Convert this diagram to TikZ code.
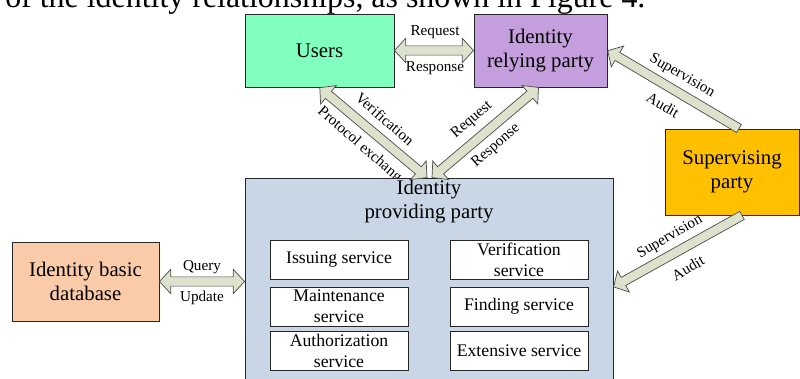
\documentclass[tikz,border=0pt]{standalone}
\usepackage{fontspec}
\setmainfont{Liberation Serif}
\usetikzlibrary{calc, backgrounds}

\definecolor{userfill}{RGB}{128,255,190}
\definecolor{relyfill}{RGB}{197,158,221}
\definecolor{supfill}{RGB}{255,192,0}
\definecolor{provfill}{RGB}{200,214,230}
\definecolor{basefill}{RGB}{250,203,168}
\definecolor{arrowfill}{RGB}{221,226,204}

% block arrow sizes
\def\shaftw{3.3pt}
\def\headw{8.6pt}
\def\headl{8pt}

% fat arrow from #1 to #2, #3=2 puts a head on both ends
\providecommand{\flowarrow}[3]{%
  \coordinate (arrtail) at (#1);
  \coordinate (arrtip) at (#2);
  \pgfpointdiff{\pgfpointanchor{arrtail}{center}}{\pgfpointanchor{arrtip}{center}}%
  \pgfgetlastxy{\arrdx}{\arrdy}%
  \pgfmathsetmacro{\arrang}{atan2(\arrdy,\arrdx)}%
  \pgfmathsetmacro{\arrlen}{veclen(\arrdx,\arrdy)}%
  \begin{scope}[shift={(arrtail)}, rotate=\arrang]
    \ifnum#3=2
      \draw[blockarrow] (0pt,0pt) -- (\headl,\headw) -- (\headl,\shaftw)
        -- ({\arrlen pt-\headl},\shaftw) -- ({\arrlen pt-\headl},\headw) -- (\arrlen pt,0pt)
        -- ({\arrlen pt-\headl},-\headw) -- ({\arrlen pt-\headl},-\shaftw)
        -- (\headl,-\shaftw) -- (\headl,-\headw) -- cycle;
    \else
      \draw[blockarrow] (0pt,\shaftw)
        -- ({\arrlen pt-\headl},\shaftw) -- ({\arrlen pt-\headl},\headw) -- (\arrlen pt,0pt)
        -- ({\arrlen pt-\headl},-\headw) -- ({\arrlen pt-\headl},-\shaftw)
        -- (0pt,-\shaftw) -- cycle;
    \fi
  \end{scope}
}

\tikzset{
  party/.style={draw=black!85, line width=0.6pt, align=center, inner sep=0pt,
    font=\fontsize{14.8}{17}\selectfont},
  service/.style={draw=black!85, fill=white, line width=0.6pt, align=center, inner sep=0pt,
    minimum width=3.45cm, minimum height=0.975cm, font=\fontsize{12.6}{14.8}\selectfont},
  flowlabel/.style={inner sep=0pt, font=\fontsize{10.8}{12}\selectfont},
  blockarrow/.style={draw=black!70, fill=arrowfill, line width=0.5pt, line join=miter}
}

\begin{document}
\begin{tikzpicture}[x=0.025cm, y=-0.025cm]
	\useasboundingbox (0,0) rectangle (800,379);

	\node[anchor=base west, inner sep=0pt, font=\fontsize{22.7}{26}\selectfont] (intro) at (5,7.5)
		{of the identity relationships, as shown in Figure 4.};

	% the parties
	\node[party, fill=userfill, minimum width=3.725cm, minimum height=1.825cm] (users) at (319.5,50.5) {Users};
	\node[party, fill=relyfill, minimum width=3.325cm, minimum height=1.825cm] (relying) at (540.5,50.5) {Identity\\relying party};
	\node[party, fill=supfill, minimum width=3.35cm, minimum height=2.15cm] (supervising) at (732,172) {Supervising\\party};
	\node[party, fill=basefill, minimum width=3.675cm, minimum height=1.975cm] (database) at (85.5,281.5) {Identity basic\\database};
	\node[party, fill=provfill, minimum width=9.2cm, minimum height=5.55cm] (providing) at (429,289) {};
	\node[inner sep=0pt, align=center, font=\fontsize{14.8}{16.5}\selectfont] (provtitle) at (429,201.5) {Identity\\providing party};

	% services inside the providing party
	\node[service] (issuing) at (339,259.5) {Issuing service};
	\node[service] (maintenance) at (339,306.5) {Maintenance\\service};
	\node[service] (authorization) at (339,351) {Authorization\\service};
	\node[service] (verification) at (519,259.5) {Verification\\service};
	\node[service] (finding) at (519,306.5) {Finding service};
	\node[service] (extensive) at (519,351) {Extensive service};

	% arrows between the parties
	\flowarrow{users.east}{relying.west}{2}
	\flowarrow{database.east}{providing.west |- database.east}{2}
	\flowarrow{$(providing.north)+(-2,0)$}{users.south}{2}
	\flowarrow{$(providing.north)+(3,0)$}{$(relying.south)+(-2,0)$}{2}
	\flowarrow{$(supervising.north)+(7,0)$}{relying.east}{1}
	\flowarrow{$(supervising.south)+(10,0)$}{providing.east |- {(0,287)}}{1}

	% arrow labels
	\node[flowlabel] (lreq) at (435,32) {Request};
	\node[flowlabel] (lresp) at (435,68) {Response};
	\node[flowlabel] (lquery) at (202,267) {Query};
	\node[flowlabel] (lupdate) at (202,298) {Update};
	\node[flowlabel, rotate=-41] (lverif) at (385,119) {Verification};
	\begin{scope}[on background layer]
		\node[flowlabel, rotate=-41] (lproto) at (362,147) {Protocol exchange};
	\end{scope}
	\node[flowlabel, rotate=41] (lreq2) at (472,120) {Request};
	\node[flowlabel, rotate=41] (lresp2) at (496,146) {Response};
	\node[flowlabel, rotate=-30] (lsup) at (682,76) {Supervision};
	\node[flowlabel, rotate=-30] (laudit) at (663,105) {Audit};
	\node[flowlabel, rotate=30] (lsup2) at (670,237) {Supervision};
	\node[flowlabel, rotate=30] (laudit2) at (688,268) {Audit};
\end{tikzpicture}
\end{document}
